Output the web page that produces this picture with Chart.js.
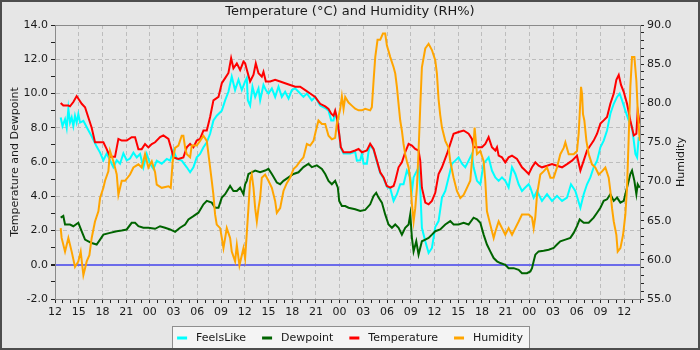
<!DOCTYPE html>
<html><head><meta charset="utf-8">
<script src="https://cdn.jsdelivr.net/npm/chart.js@4.4.1/dist/chart.umd.min.js"></script>
<style>html,body{margin:0;padding:0;background:#e6e6e6;overflow:hidden}canvas{display:block}</style>
</head><body>
<canvas id="c" width="700" height="350"></canvas>
<script>
// hours since 12:00 on the first day
const xTickLabels = ['12','15','18','21','00','03','06','09','12','15','18','21','00','03','06','09','12','15','18','21','00','03','06','09','12'];
const leftTickLabels = ['-2.0','0.0','2.0','4.0','6.0','8.0','10.0','12.0','14.0'];
const rightTickLabels = ['55.0','60.0','65.0','70.0','75.0','80.0','85.0','90.0'];

const tempT = [0.72,1.05,1.69,1.90,2.32,2.74,3.38,3.80,4.22,4.64,5.06,5.49,6.12,6.54,6.96,7.59,8.02,8.44,9.07,9.70,10.13,10.55,10.97,11.39,11.81,12.24,12.66,13.29,13.71,14.35,14.77,14.98,15.61,16.24,16.67,17.09,17.51,17.93,18.35,18.78,19.20,19.62,20.04,20.68,21.10,21.52,21.94,22.28,22.57,23.00,23.42,23.84,24.05,24.26,24.68,25.11,25.40,25.74,26.16,26.37,26.67,27.22,27.85,28.48,29.11,29.75,30.38,31.01,31.65,32.28,32.91,33.54,34.18,34.60,34.94,35.23,35.44,35.65,35.95,36.16,36.50,37.34,37.97,38.40,38.82,39.45,39.87,40.30,40.72,41.14,41.56,41.98,42.41,42.83,43.04,43.46,43.88,44.30,44.73,45.15,45.57,45.99,46.20,46.41,46.84,47.26,47.68,48.10,48.52,48.95,49.58,50.00,50.42,51.05,51.69,52.32,52.74,52.95,53.38,54.01,54.43,54.85,55.27,55.70,55.91,56.12,56.54,56.96,57.38,57.81,58.44,59.07,59.49,59.92,60.34,60.76,61.18,61.60,62.24,62.87,63.50,64.14,64.77,65.40,66.03,66.46,66.88,67.30,67.72,68.14,68.57,68.99,69.41,69.83,70.25,70.68,71.01,71.31,71.60,71.94,72.36,72.78,73.21,73.54,73.71,73.97];
const temperature = [9.45,9.3,9.3,9.25,9.5,9.85,9.4,9.2,8.6,8.0,7.15,7.15,7.15,6.75,6.3,6.3,7.35,7.25,7.25,7.45,7.45,6.75,6.75,7.05,6.85,7.05,7.15,7.45,7.55,7.35,6.67,6.27,6.18,6.27,6.86,7.06,6.86,7.25,7.35,7.84,7.84,8.63,9.6,9.8,10.6,10.9,11.2,12.06,11.47,11.76,11.37,11.86,11.76,11.4,10.7,11.1,11.76,11.18,10.98,11.27,10.7,10.7,10.8,10.7,10.6,10.5,10.4,10.4,10.2,10.0,9.8,9.4,9.25,9.1,8.82,8.7,9.0,8.6,7.65,6.86,6.57,6.57,6.67,6.76,6.57,6.67,7.06,6.76,6.08,5.4,5.1,4.6,4.5,4.6,4.9,5.69,5.98,6.57,7.06,6.96,6.76,6.67,6.08,4.5,3.63,3.53,3.73,4.2,5.3,5.69,6.47,7.06,7.65,7.75,7.84,7.65,7.35,6.86,6.86,6.86,7.06,7.45,6.86,6.67,6.86,6.37,6.27,5.98,6.27,6.37,6.18,5.69,5.5,5.3,5.69,5.98,5.78,5.69,5.78,5.88,5.78,5.69,5.88,6.08,6.37,5.5,6.08,6.67,6.96,7.25,7.65,8.24,8.43,8.63,9.4,10.0,10.8,11.08,10.5,10.1,9.4,8.43,7.55,7.65,9.0,8.24];

const feelsT = [0.72,0.95,1.27,1.48,1.69,1.90,2.11,2.32,2.53,2.74,2.95,3.17,3.59,4.22,4.64,5.27,5.70,6.12,6.54,6.96,7.38,7.81,8.23,8.65,9.07,9.49,9.92,10.34,10.76,11.18,11.60,12.03,12.45,12.87,13.50,14.14,14.56,14.98,15.40,16.03,16.67,17.09,17.51,17.93,18.35,18.78,19.20,19.62,20.04,20.46,21.10,21.52,21.94,22.36,22.78,23.21,23.63,24.05,24.26,24.39,24.68,24.98,25.32,25.74,25.95,26.37,26.67,27.00,27.43,27.85,28.27,28.69,29.11,29.54,29.96,30.38,30.80,31.43,31.86,32.49,32.91,33.54,34.18,34.60,34.94,35.23,35.44,35.65,35.95,36.16,36.50,37.34,37.97,38.19,38.61,38.82,39.03,39.45,39.66,39.87,40.30,40.72,41.14,41.56,41.98,42.41,42.83,43.25,43.67,44.09,44.51,44.94,45.15,45.36,45.78,45.99,46.20,46.41,46.84,47.26,47.68,48.10,48.52,48.95,49.37,49.79,50.21,50.63,51.05,51.48,51.90,52.32,52.74,52.95,53.38,53.80,54.22,54.85,55.27,55.70,56.12,56.54,56.96,57.38,57.81,58.23,58.65,59.07,59.49,59.92,60.13,60.55,60.97,61.60,62.24,62.87,63.50,64.14,64.77,65.27,65.82,66.46,66.88,67.30,67.72,68.14,68.57,68.99,69.41,69.83,70.25,70.68,71.10,71.43,71.73,72.15,72.57,72.99,73.21,73.42,73.63,73.84];
const feelsLike = [8.6,8.1,8.5,8.0,9.1,8.3,8.6,8.1,8.7,8.3,8.8,8.3,8.4,7.85,7.5,6.9,6.55,6.1,6.5,6.1,5.7,6.1,5.9,6.5,6.1,6.2,6.55,6.27,6.47,5.69,6.47,5.9,5.6,6.08,5.9,6.18,6.08,6.67,6.18,6.08,5.69,5.4,5.69,6.27,6.47,6.86,7.15,7.65,8.43,8.7,9.0,9.6,10.1,10.98,10.2,10.8,10.2,10.7,10.9,9.6,9.3,10.4,9.8,10.3,9.6,10.5,10.2,10.0,10.3,9.8,10.4,9.8,10.1,9.7,10.2,10.3,10.1,9.8,10.0,9.6,9.8,9.3,9.15,9.0,8.43,8.43,8.9,8.5,7.6,6.8,6.5,6.5,6.6,6.08,6.1,6.5,5.9,5.9,6.6,7.0,6.7,6.0,5.35,5.05,4.55,4.45,3.73,4.12,4.7,4.7,5.5,5.1,4.31,5.1,5.5,5.69,4.5,2.16,1.37,0.69,0.98,2.2,2.55,3.92,4.31,5.1,5.9,6.08,6.27,5.9,5.69,6.08,6.47,5.69,4.9,4.7,5.9,6.27,5.5,5.1,4.9,5.1,4.9,4.51,5.69,5.3,4.7,4.31,4.51,4.7,4.51,3.92,4.31,3.73,4.12,3.73,4.02,3.73,3.92,4.7,4.31,3.33,4.12,4.7,5.1,5.69,6.08,6.86,7.25,7.84,8.82,9.4,9.8,10.0,9.6,9.0,8.43,8.04,7.25,6.47,6.27,7.45];

const dewT = [0.72,1.05,1.27,1.90,2.32,2.95,3.38,3.80,4.22,4.64,5.27,5.70,6.12,6.96,7.81,8.44,9.07,9.70,10.13,10.55,11.18,11.81,12.66,13.29,13.92,14.56,15.19,15.82,16.46,16.88,17.51,18.14,18.78,19.20,19.83,20.25,20.68,21.10,21.52,22.15,22.57,23.00,23.42,23.84,24.05,24.26,24.47,24.89,25.32,25.95,26.58,27.00,27.43,28.06,28.48,28.90,29.54,30.17,30.80,31.43,32.07,32.49,33.12,33.76,34.18,34.60,35.02,35.44,35.78,35.95,36.29,36.71,37.13,37.97,38.61,39.24,39.87,40.30,40.63,40.93,41.35,41.77,42.19,42.62,43.04,43.46,43.88,44.30,44.73,44.94,45.15,45.36,45.70,45.99,46.41,46.84,47.26,47.68,48.10,48.73,49.37,50.00,50.42,51.05,51.69,52.32,52.95,53.38,53.80,54.22,54.64,55.06,55.49,55.91,56.33,56.96,57.38,58.02,58.65,59.07,59.70,60.13,60.34,60.55,60.76,61.18,61.81,62.45,63.08,63.50,63.92,64.56,65.19,65.61,66.03,66.37,66.88,67.51,68.14,68.57,68.99,69.41,69.83,70.25,70.68,71.10,71.52,71.94,72.36,72.78,72.99,73.29,73.54,73.71,73.97];
const dewpoint = [2.75,2.85,2.35,2.35,2.25,2.45,1.95,1.47,1.37,1.27,1.18,1.47,1.76,1.86,1.96,2.0,2.06,2.45,2.45,2.25,2.16,2.16,2.1,2.25,2.16,2.06,1.92,2.16,2.35,2.65,2.84,3.04,3.53,3.73,3.63,3.33,3.33,3.92,4.12,4.6,4.31,4.31,4.5,4.12,4.7,4.9,5.3,5.4,5.5,5.4,5.5,5.6,5.3,4.8,4.7,4.9,5.1,5.3,5.4,5.7,5.9,5.7,5.8,5.6,5.3,4.9,4.7,4.9,4.5,3.73,3.43,3.43,3.33,3.24,3.14,3.2,3.53,4.02,4.2,3.92,3.63,2.94,2.35,2.16,2.35,2.16,1.76,2.16,2.35,2.94,1.57,0.78,1.37,0.59,1.37,1.47,1.57,1.76,1.96,2.06,2.35,2.55,2.35,2.35,2.45,2.35,2.75,2.65,2.45,1.76,1.18,0.78,0.39,0.2,0.1,0.0,-0.2,-0.2,-0.3,-0.49,-0.49,-0.39,-0.2,0.2,0.59,0.78,0.82,0.88,0.98,1.18,1.37,1.47,1.57,1.86,2.25,2.65,2.45,2.45,2.75,3.04,3.33,3.73,3.82,4.12,3.73,3.92,3.63,3.73,4.51,5.3,5.5,4.9,4.12,4.7,4.5];

const humT = [0.72,0.84,1.27,1.69,2.11,2.53,2.95,3.25,3.59,4.01,4.35,4.64,5.06,5.49,5.70,6.12,6.33,6.75,6.96,7.38,7.59,7.81,8.02,8.44,8.86,9.49,9.92,10.55,10.97,11.39,11.81,12.24,12.66,12.87,13.50,14.35,14.64,14.89,15.19,15.61,16.03,16.24,16.46,16.67,17.09,17.30,17.93,18.35,18.78,19.20,19.41,19.62,19.83,20.04,20.25,20.46,20.89,21.10,21.31,21.73,22.15,22.36,22.78,23.00,23.33,23.63,23.84,24.05,24.26,24.47,24.68,24.89,25.11,25.32,25.53,25.74,25.95,26.16,26.58,27.00,27.43,27.85,28.06,28.48,28.90,29.32,29.75,30.17,30.59,31.01,31.43,31.86,32.28,32.70,33.00,33.33,33.76,34.18,34.60,35.02,35.44,35.65,36.08,36.29,36.50,36.71,37.13,37.55,37.97,38.40,38.82,39.24,39.87,40.08,40.30,40.51,40.80,41.14,41.48,41.77,41.98,42.41,42.83,43.04,43.25,43.46,43.67,43.88,44.09,44.30,44.51,44.73,44.94,45.15,45.36,45.57,45.78,45.99,46.20,46.41,46.84,47.26,47.68,48.10,48.31,48.52,48.73,48.95,49.37,49.79,50.00,50.42,50.84,51.27,51.69,52.11,52.53,52.74,52.95,53.08,53.38,53.80,54.22,54.43,54.64,55.06,55.49,55.70,56.12,56.54,56.96,57.38,57.81,58.23,58.65,59.07,59.49,59.92,60.34,60.55,60.76,60.97,61.39,61.81,62.24,62.66,63.08,63.50,63.92,64.35,64.56,64.98,65.61,66.03,66.24,66.37,66.54,66.67,66.79,66.96,67.22,67.51,67.93,68.35,68.78,69.20,69.62,70.04,70.25,70.46,70.68,71.01,71.18,71.52,71.86,72.15,72.36,72.57,72.78,72.99,73.29,73.54,73.71,73.97];
const humidity = [64.05,62.8,61.05,62.8,61.05,59.1,59.8,61.05,58.05,59.8,60.6,62.8,64.9,66.2,67.9,69.2,70.1,71.3,73.9,72.6,71.8,70.9,68.3,70.1,70.1,70.9,71.8,72.2,71.8,73.5,71.8,72.6,71.2,69.6,69.2,69.4,69.2,72.6,74.3,74.6,75.85,75.85,74.3,73.5,73.1,74.6,74.6,75.2,75.85,75.2,73.5,71.8,70.1,68.3,65.8,64.5,64.05,62.8,61.5,64.05,62.8,61.05,59.8,61.9,59.3,60.6,61.5,60.2,63.4,66.6,70.1,70.9,69.2,66.6,64.9,66.6,67.9,70.5,70.9,70.1,69.2,67.5,66.0,66.6,68.8,69.8,70.5,71.6,72.0,72.6,73.1,74.8,74.6,75.2,76.5,77.8,77.35,77.35,75.85,75.4,75.6,77.35,79.3,80.9,79.3,80.8,80.1,79.7,79.3,79.1,79.1,79.3,79.1,79.5,82.9,85.9,88.1,88.1,88.9,88.9,87.4,85.9,84.6,83.8,82.1,79.9,77.8,76.5,74.8,73.5,72.6,71.8,70.1,67.1,64.9,66.6,69.2,73.9,79.5,84.6,87.0,87.6,86.8,85.5,83.8,80.5,78.5,76.9,75.2,74.3,72.6,70.5,68.8,67.9,68.3,69.2,70.1,72.6,74.8,76.9,73.5,73.9,72.6,70.1,66.2,64.5,62.8,63.6,64.9,64.05,63.2,64.05,63.2,64.05,64.9,65.8,65.8,65.8,65.4,64.05,65.5,68.3,70.9,71.3,71.8,70.5,70.5,71.8,73.5,74.3,75.0,73.5,73.5,73.9,76.1,78.6,82.1,81.2,78.6,77.8,75.2,73.5,72.2,71.8,70.9,71.3,71.8,70.5,68.8,66.6,64.9,63.2,61.05,61.5,63.2,65.8,69.2,75.6,82.1,85.9,85.9,82.9,79.1,75.2];

const pts = (t, v) => t.map((x, i) => ({x: x, y: v[i]}));
const FONT = 'DejaVu Sans';
const TXT = '#1a1a1a';

const framePlugin = {
  id: 'frame',
  beforeDraw(c) {
    const ctx = c.ctx;
    ctx.save();
    ctx.fillStyle = '#e6e6e6';
    ctx.fillRect(0, 0, c.width, c.height);
    const hb = c.legend && c.legend.legendHitBoxes;
    if (hb && hb.length) {
      const l = Math.round(hb[0].left - 5);
      const last = hb[hb.length - 1];
      const r = Math.round(last.left + last.width + 6);
      const cy = hb[0].top + hb[0].height / 2;
      const t = Math.round(cy - 12);
      ctx.fillStyle = '#f4f4f4';
      ctx.fillRect(l, t, r - l, 40);
      ctx.strokeStyle = '#8e8e8e';
      ctx.lineWidth = 1;
      ctx.strokeRect(l + 0.5, t + 0.5, r - l, 40);
    }
    ctx.restore();
  },
  afterDraw(c) {
    const ctx = c.ctx, a = c.chartArea;
    ctx.save();
    ctx.strokeStyle = '#8a8a8a';
    ctx.lineWidth = 1;
    ctx.beginPath();
    ctx.moveTo(a.left, a.top + 0.5);
    ctx.lineTo(a.right, a.top + 0.5);
    ctx.stroke();
    ctx.translate(681.5, (a.top + a.bottom) / 2);
    ctx.rotate(-Math.PI / 2);
    ctx.font = '11px "' + FONT + '"';
    ctx.fillStyle = TXT;
    ctx.textAlign = 'center';
    ctx.textBaseline = 'middle';
    ctx.fillText('Humidity', 0, 0);
    ctx.restore();
    ctx.save();
    ctx.strokeStyle = '#4d4d4d';
    ctx.lineWidth = 2;
    ctx.strokeRect(1, 1, c.width - 2, c.height - 2);
    ctx.restore();
  }
};

new Chart(document.getElementById('c'), {
  type: 'line',
  data: {
    datasets: [
      {label: ' FeelsLike', data: pts(feelsT, feelsLike), borderColor: '#00ffff', backgroundColor: '#00ffff', yAxisID: 'y', order: 4},
      {label: ' Dewpoint', data: pts(dewT, dewpoint), borderColor: '#006400', backgroundColor: '#006400', yAxisID: 'y', order: 3},
      {label: ' Temperature', data: pts(tempT, temperature), borderColor: '#ff0000', backgroundColor: '#ff0000', yAxisID: 'y', order: 2},
      {label: ' Humidity', data: pts(humT, humidity), borderColor: '#ffa500', backgroundColor: '#ffa500', yAxisID: 'y2', order: 1}
    ]
  },
  options: {
    responsive: false,
    animation: false,
    devicePixelRatio: 1,
    layout: {padding: {left: 0, right: 0, top: 0, bottom: -3.5}},
    elements: {line: {borderWidth: 2, tension: 0}, point: {radius: 0, hoverRadius: 0}},
    plugins: {
      title: {display: true, text: 'Temperature (°C) and Humidity (RH%)', color: TXT,
        font: {family: FONT, size: 13, weight: 'normal'}, padding: {top: 4, bottom: 5.4}},
      legend: {position: 'bottom',
        labels: {boxWidth: 10, boxHeight: 3, padding: 16, color: TXT, font: {family: FONT, size: 11},
          generateLabels: c => Chart.defaults.plugins.legend.labels.generateLabels(c).map(l => Object.assign({}, l, {lineWidth: 0, fillStyle: l.strokeStyle})),
          sort: (a, b) => a.datasetIndex - b.datasetIndex}},
      tooltip: {enabled: false}
    },
    scales: {
      x: {type: 'linear', min: 0, max: 74,
        afterFit: s => { s.height = 17.5; },
        ticks: {stepSize: 1, autoSkip: false, maxRotation: 0, minRotation: 0, padding: 3, color: TXT,
          font: {family: FONT, size: 11},
          callback: v => { const r = Math.round(v); return r % 3 === 0 ? xTickLabels[r / 3] : ''; }},
        grid: {color: ctx => (ctx.tick && Math.round(ctx.tick.value) % 3 === 0) ? '#bdbdbd' : 'rgba(0,0,0,0)',
          tickColor: '#222', tickLength: 4, lineWidth: 1},
        border: {color: '#8a8a8a', dash: [4, 3]}
      },
      y: {position: 'left', min: -2, max: 14,
        afterFit: s => { s.width = 55; },
        ticks: {stepSize: 1, autoSkip: false, padding: 3, color: TXT, font: {family: FONT, size: 11},
          callback: v => { const r = Math.round(v); return r % 2 === 0 ? leftTickLabels[(r + 2) / 2] : ''; }},
        grid: {
          color: ctx => { if (!ctx.tick) return '#bdbdbd'; const r = Math.round(ctx.tick.value); return r === 0 ? '#6b6bea' : (r % 2 === 0 ? '#bdbdbd' : 'rgba(0,0,0,0)'); },
          lineWidth: ctx => (ctx.tick && Math.round(ctx.tick.value) === 0) ? 2 : 1,
          tickColor: '#222', tickLength: 4},
        border: {color: '#8a8a8a', dash: ctx => (ctx.tick && Math.round(ctx.tick.value) === 0) ? [] : [4, 3]},
        title: {display: true, text: 'Temperature and Dewpoint', color: TXT, font: {family: FONT, size: 11}, padding: {top: 9, bottom: 0}}
      },
      y2: {position: 'right', min: 55, max: 90,
        afterFit: s => { s.width = 60; },
        ticks: {stepSize: 1, autoSkip: false, padding: 3, color: TXT, font: {family: FONT, size: 11},
          callback: v => { const r = Math.round(v); return r % 5 === 0 ? rightTickLabels[(r - 55) / 5] : ''; }},
        grid: {drawOnChartArea: false, tickColor: '#222', tickLength: 4},
        border: {color: '#8a8a8a'}
      }
    }
  },
  plugins: [framePlugin]
});
</script>
</body></html>
